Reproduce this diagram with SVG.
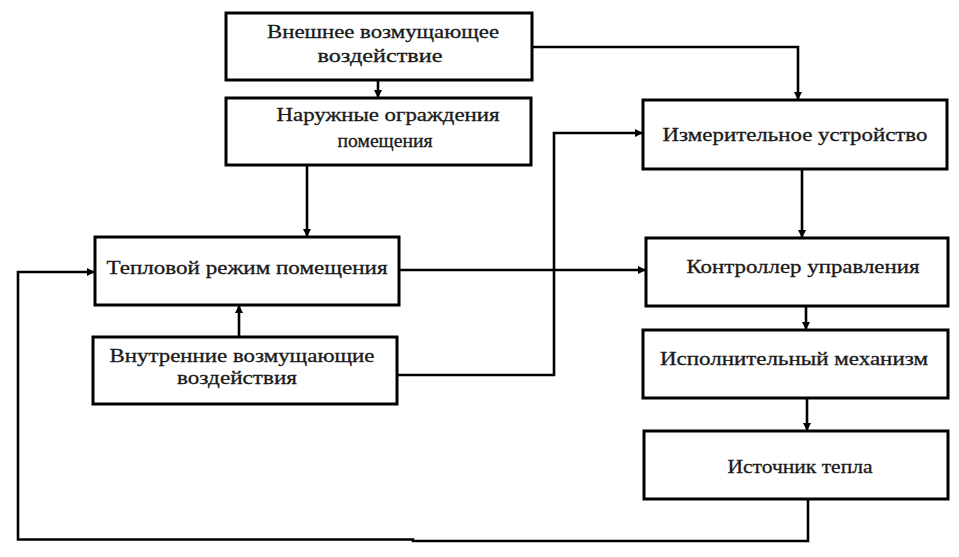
<svg xmlns="http://www.w3.org/2000/svg" width="959" height="557" viewBox="0 0 959 557">
<style>
.box{fill:#fff;stroke:#000;stroke-width:3}
.t{font-family:'Liberation Serif','DejaVu Serif',serif;font-size:18px;fill:#1a1a1a;text-anchor:middle;stroke:#1a1a1a;stroke-width:0.3}
.c{fill:none;stroke:#000;stroke-width:2.6}
</style>
<defs>
<marker id="ah" viewBox="0 0 10 10" refX="10" refY="5" markerWidth="10" markerHeight="8" markerUnits="userSpaceOnUse" orient="auto">
<path d="M0,0 L10,5 L0,10 Z" fill="#000"/>
</marker>
</defs>
<rect width="959" height="557" fill="#fff"/>
<g id="connectors">
<path class="c" d="M378,80 V98" marker-end="url(#ah)"/>
<path class="c" d="M532,47 H798 V100" marker-end="url(#ah)"/>
<path class="c" d="M307,165 V237" marker-end="url(#ah)"/>
<path class="c" d="M239,337 V305" marker-end="url(#ah)"/>
<path class="c" d="M399,270 H646" marker-end="url(#ah)"/>
<path class="c" d="M397,375 H554 V133 H643" marker-end="url(#ah)"/>
<path class="c" d="M802,169 V238" marker-end="url(#ah)"/>
<path class="c" d="M806,306 V330" marker-end="url(#ah)"/>
<path class="c" d="M807,398 V431" marker-end="url(#ah)"/>
<path class="c" d="M808,499 V541 H413 V539.5 H18 V272 H95" marker-end="url(#ah)"/>
</g>
<g id="n1"><rect class="box" x="226" y="13" width="306" height="67"/>
<text class="t" x="383" y="38" textLength="232" lengthAdjust="spacingAndGlyphs">Внешнее возмущающее</text>
<text class="t" x="380" y="62" textLength="125" lengthAdjust="spacingAndGlyphs">воздействие</text></g>
<g id="n2"><rect class="box" x="226" y="98" width="305" height="67"/>
<text class="t" x="388" y="121" textLength="223" lengthAdjust="spacingAndGlyphs">Наружные ограждения</text>
<text class="t" x="385" y="147" textLength="95" lengthAdjust="spacingAndGlyphs">помещения</text></g>
<g id="n3"><rect class="box" x="95" y="237" width="304" height="68"/>
<text class="t" x="247" y="274" textLength="281" lengthAdjust="spacingAndGlyphs">Тепловой режим помещения</text></g>
<g id="n4"><rect class="box" x="93" y="337" width="304" height="67"/>
<text class="t" x="242" y="362" textLength="265" lengthAdjust="spacingAndGlyphs">Внутренние возмущающие</text>
<text class="t" x="237" y="384" textLength="120" lengthAdjust="spacingAndGlyphs">воздействия</text></g>
<g id="n5"><rect class="box" x="643" y="100" width="304" height="69"/>
<text class="t" x="795" y="141" textLength="265" lengthAdjust="spacingAndGlyphs">Измерительное устройство</text></g>
<g id="n6"><rect class="box" x="646" y="238" width="302" height="68"/>
<text class="t" x="803" y="273" textLength="233" lengthAdjust="spacingAndGlyphs">Контроллер управления</text></g>
<g id="n7"><rect class="box" x="643" y="330" width="305" height="68"/>
<text class="t" x="794" y="365" textLength="268" lengthAdjust="spacingAndGlyphs">Исполнительный механизм</text></g>
<g id="n8"><rect class="box" x="644" y="431" width="304" height="68"/>
<text class="t" x="800" y="473" textLength="145" lengthAdjust="spacingAndGlyphs">Источник тепла</text></g>
</svg>
